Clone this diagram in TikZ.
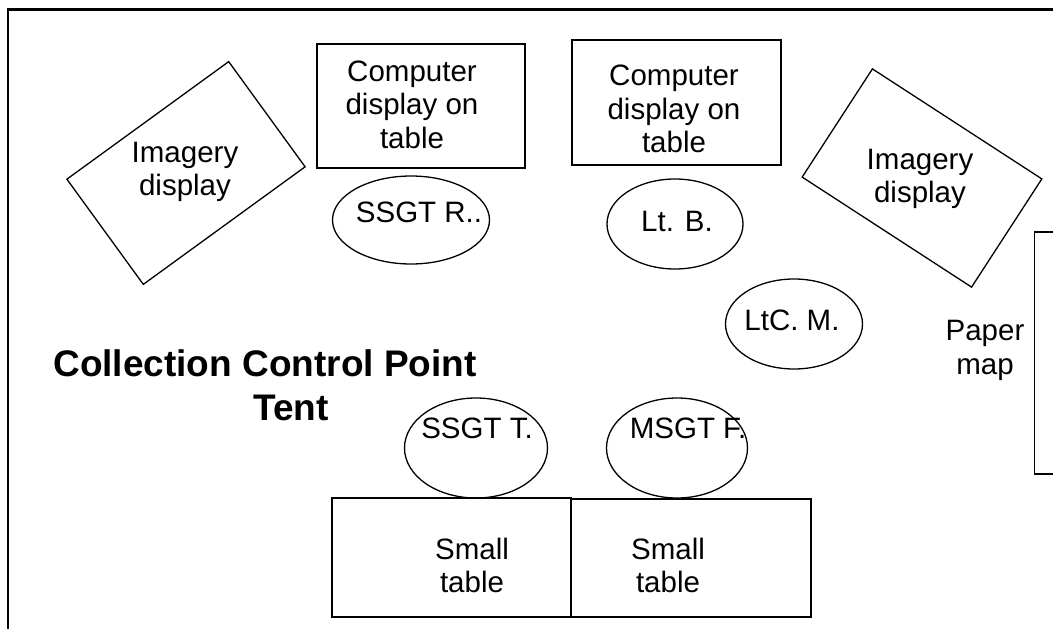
\documentclass[tikz,border=0pt]{standalone}
\usepackage{fontspec}
\setmainfont{Liberation Sans}
\usepackage{tikz}
\usetikzlibrary{shapes, positioning, calc}

\tikzset{
  outline/.style={draw=black, line width=1.3pt},
  furniture/.style={outline, rectangle, inner sep=0pt},
  person/.style={outline, ellipse, inner sep=0pt},
  label text/.style={align=center, inner sep=0pt, font=\fontsize{29.5}{33.5}\selectfont},
}

\begin{document}
\begin{tikzpicture}[x=1pt, y=-1pt]
  \useasboundingbox (0,0) rectangle (1053,629);
  \clip (0,0) rectangle (1053,629);
  \fill[white] (0,0) rectangle (1053,629);

  % tent walls
  \coordinate (tentEnd) at (1070,9.5);
  \coordinate (tentCorner) at (8,9.5);
  \coordinate (tentFoot) at (8,650);
  \draw[line width=2.2pt] (tentEnd) -- (tentCorner) -- (tentFoot);

  % displays
  \node[furniture, minimum width=200pt, minimum height=130pt, rotate=36] (imgLeft) at (186,173) {};
  \node[label text] (imgLeftText) at (185,172) {Imagery\\display};
  \node[furniture, minimum width=208pt, minimum height=124pt] (compLeft) at (421,106) {};
  \node[label text] (compLeftText) at (412,104.5) {Computer\\display on\\table};
  \node[furniture, minimum width=209pt, minimum height=125pt] (compRight) at (676.5,102.5) {};
  \node[label text] (compRightText) at (674,109) {Computer\\display on\\table};
  \node[furniture, minimum width=202pt, minimum height=129pt, rotate=-33] (imgRight) at (922,178) {};
  \node[label text] (imgRightText) at (920,179) {Imagery\\display};

  % paper map on the wall
  \node[furniture, minimum width=60pt, minimum height=242pt, anchor=west] (paperMap) at (1034,353) {};
  \node[label text] (paperMapText) at (985,350.5) {Paper\\map};

  % people
  \node[person, minimum width=157pt, minimum height=88pt] (ssgtR) at (411,220) {};
  \node[label text, anchor=base] (ssgtRText) at (419,222) {SSGT R..};
  \node[person, minimum width=136pt, minimum height=90pt] (ltB) at (675,224) {};
  \node[label text, anchor=base] (ltBText) at (677,231) {Lt. B.};
  \node[person, minimum width=137pt, minimum height=90pt] (ltcM) at (794,324) {};
  \node[label text, anchor=base] (ltcMText) at (792,330) {LtC. M.};
  \node[person, minimum width=143pt, minimum height=100pt] (ssgtT) at (476,448) {};
  \node[label text, anchor=base] (ssgtTText) at (477,438) {SSGT T.};
  \node[person, minimum width=141pt, minimum height=100pt] (msgtF) at (677,448) {};
  \node[label text, anchor=base] (msgtFText) at (688,438) {MSGT F.};

  % small tables
  \node[furniture, minimum width=239pt, minimum height=119pt] (tableLeft) at (451.5,557.5) {};
  \node[label text] (tableLeftText) at (472,565.5) {Small\\table};
  \node[furniture, minimum width=240pt, minimum height=118pt] (tableRight) at (691,558) {};
  \node[label text] (tableRightText) at (668,565.5) {Small\\table};

  % title
  \node[align=center, inner sep=0pt, font=\bfseries\fontsize{37}{44}\selectfont] (title) at (265,385.5)
    {Collection Control Point\\\hspace*{52pt}Tent};
\end{tikzpicture}
\end{document}
